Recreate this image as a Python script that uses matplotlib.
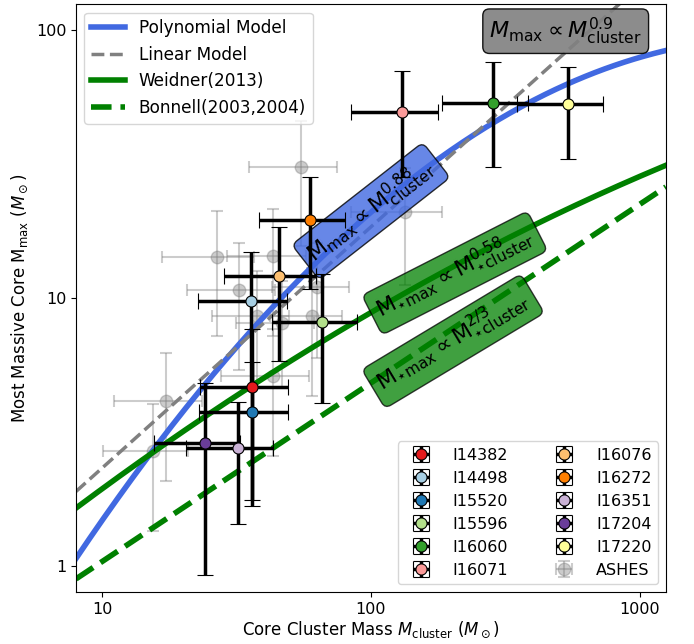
import numpy as np
import matplotlib
matplotlib.use("Agg")
import matplotlib.pyplot as plt
from matplotlib.ticker import ScalarFormatter, NullLocator

# ---- observed protoclusters (M_cluster, err, M_max, err) ----
names = ["I14382", "I14498", "I15520", "I15596", "I16060", "I16071",
         "I16076", "I16272", "I16351", "I17204", "I17220"]
colors = ["#e31a1c", "#a6cee3", "#1f78b4", "#b2df8a", "#33a02c", "#fb9a99",
          "#fdbf6f", "#ff7f00", "#cab2d6", "#6a3d9a", "#ffff99"]
m_cl = [36.1, 35.8, 36.0, 65.7, 284, 131, 45.5, 59.3, 32.0, 24.1, 540]
m_cl_err = [13.0, 13.0, 13.0, 23.0, 100, 47, 17.0, 21.0, 11.4, 8.5, 190]
m_max = [4.67, 9.79, 3.76, 8.17, 53.3, 49.4, 12.1, 19.5, 2.76, 2.88, 52.9]
m_max_err = [3.0, 5.1, 2.0, 4.1, 22.6, 21.0, 6.3, 8.7, 1.33, 1.95, 20.0]

# ---- ASHES sample ----
ashes_cl = [54.9, 134, 26.7, 43.2, 32.3, 62.9, 37.6, 60.3, 46.6, 43.2, 17.3, 15.5]
ashes_cl_err = [19.8, 50, 10.0, 14.0, 11.6, 20.0, 12.0, 18.0, 15.0, 15.5, 6.2, 5.4]
ashes_max = [30.7, 20.9, 14.2, 14.3, 10.7, 11.0, 8.6, 8.6, 8.1, 5.13, 4.14, 2.69]
ashes_max_err = [15.0, 9.7, 7.0, 7.1, 5.3, 5.0, 4.0, 4.3, 3.5, 2.55, 2.07, 1.34]

# ---- model relations, log10 Mmax as function of log10 Mcluster ----
poly_coef = [-1.552, 2.008, -0.286]      # polynomial model
linear_coef = [-0.5345, 0.9]             # linear model
weidner_coef = [-0.52, 0.883, -0.075]    # Weidner (2013)
bonnell_coef = [-0.65, 2.0 / 3.0]        # Bonnell (2003, 2004)

xlim = (8, 1250)
ylim = (0.8, 125)


def model(coef, x):
    lx = np.log10(x)
    return 10 ** sum(c * lx ** i for i, c in enumerate(coef))


fig = plt.figure(figsize=(6.94, 6.44), dpi=100)
ax = fig.add_axes([0.1095, 0.0807, 0.850, 0.913])

xs = np.logspace(np.log10(xlim[0]), np.log10(xlim[1]), 300)
l_poly, = ax.plot(xs, model(poly_coef, xs), color="royalblue", lw=4,
                  label="Polynomial Model")
l_lin, = ax.plot(xs, model(linear_coef, xs), color="gray", lw=2.5, ls="--",
                 label="Linear Model")
l_wei, = ax.plot(xs, model(weidner_coef, xs), color="green", lw=4,
                 label="Weidner(2013)")
l_bon, = ax.plot(xs, model(bonnell_coef, xs), color="green", lw=4, ls="--",
                 label="Bonnell(2003,2004)")

handles = []
for i in range(len(names)):
    h = ax.errorbar(m_cl[i], m_max[i], xerr=m_cl_err[i], yerr=m_max_err[i],
                    fmt="o", ms=8, mfc=colors[i], mec="k", mew=0.8,
                    ecolor="k", elinewidth=2.5, capsize=6, capthick=2.5,
                    label=names[i], zorder=4)
    handles.append(h)

h_ashes = ax.errorbar(ashes_cl, ashes_max, xerr=ashes_cl_err, yerr=ashes_max_err,
                      fmt="o", ms=9, color="gray", alpha=0.4, elinewidth=1.5,
                      capsize=4, capthick=1.5, label="ASHES", zorder=1)
handles.append(h_ashes)

ax.set_xscale("log")
ax.set_yscale("log")
ax.set_xlim(*xlim)
ax.set_ylim(*ylim)
for axis in (ax.xaxis, ax.yaxis):
    axis.set_major_formatter(ScalarFormatter())
    axis.set_minor_locator(NullLocator())
ax.tick_params(labelsize=11.5)

ax.set_xlabel(r"Core Cluster Mass $M_{\rm cluster}$ ($M_\odot$)", fontsize=12,
              labelpad=2)
ax.set_ylabel(r"Most Massive Core M$_{\rm max}$ ($M_\odot$)", fontsize=12)

# annotations
ax.text(530, 99, r"$M_{\rm max}\propto M_{\rm cluster}^{0.9}$", fontsize=16,
        ha="center", va="center",
        bbox=dict(boxstyle="round,pad=0.3", fc="gray", ec="k", alpha=0.9))
ax.text(100, 21.1, r"M$_{\rm max}\propto$M$^{0.88}_{\rm cluster}$", fontsize=16,
        ha="center", va="center", rotation=38, rotation_mode="anchor",
        bbox=dict(boxstyle="round,pad=0.3", fc="royalblue", ec="k", alpha=0.8))
ax.text(205, 12.4, r"M$_{\star\rm max}\propto$M$^{0.58}_{\star\rm cluster}$",
        fontsize=16, ha="center", va="center", rotation=27, rotation_mode="anchor",
        bbox=dict(boxstyle="round,pad=0.3", fc="green", ec="k", alpha=0.75))
ax.text(202, 6.9, r"M$_{\star\rm max}\propto$M$^{2/3}_{\star\rm cluster}$",
        fontsize=16, ha="center", va="center", rotation=31, rotation_mode="anchor",
        bbox=dict(boxstyle="round,pad=0.3", fc="green", ec="k", alpha=0.75))

leg1 = ax.legend(handles=[l_poly, l_lin, l_wei, l_bon], loc="upper left",
                 fontsize=12.2)
ax.add_artist(leg1)
ax.legend(handles=handles, loc="lower right", ncol=2, fontsize=11.5,
          columnspacing=2.5, handletextpad=1.0)

fig.savefig("out.png", dpi=100)
